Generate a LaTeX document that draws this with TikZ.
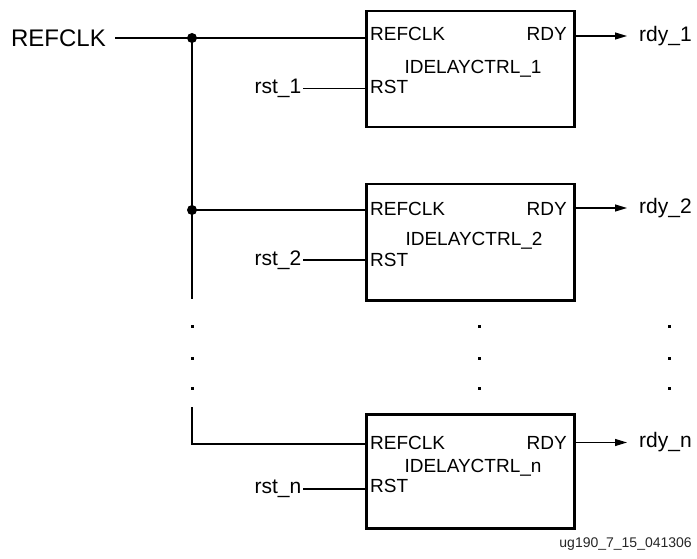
\documentclass[tikz,border=0pt]{standalone}
\usepackage{fontspec}
\setmainfont{Liberation Sans}
\usetikzlibrary{positioning,arrows.meta}

\begin{document}
\begin{tikzpicture}[
  x=1pt, y=-1pt,
  font=\fontsize{21}{25}\selectfont,
  wire/.style={line width=1.2pt},
  arr/.style={wire, -{Triangle[length=12pt, width=7pt]}},
  ctrl/.style={draw, line width=2.5pt, minimum width=208pt, minimum height=116pt, inner sep=0pt, anchor=north west},
  pin/.style={font=\fontsize{19}{22}\selectfont, inner sep=0pt},
  sig/.style={inner sep=0pt},
  junc/.style={circle, fill, inner sep=0pt, minimum size=10pt},
  figtag/.style={font=\fontsize{14}{16}\selectfont, text=black!85, inner sep=0pt}]
\useasboundingbox (0,0) rectangle (697,559);
% input clock
\node[sig, font=\fontsize{24}{28}\selectfont, anchor=east, inner xsep=9pt] (refclk) at (115,38) {REFCLK};
% controller blocks
\node[ctrl] (ctrl1) at (365,10) {};
\node[ctrl] (ctrl2) at (365,183) {};
\node[ctrl, minimum height=114pt] (ctrln) at (365,413) {};
\node[pin, anchor=base west] (clk1) at (370,41) {REFCLK};
\node[pin, anchor=base east] (rdyp1) at (567,41) {RDY};
\node[pin, anchor=base] (name1) at (473,73.5) {IDELAYCTRL\_1};
\node[pin, anchor=base west] (rstp1) at (370,94) {RST};
\node[pin, anchor=base west] (clk2) at (370,216) {REFCLK};
\node[pin, anchor=base east] (rdyp2) at (567,216) {RDY};
\node[pin, anchor=base] (name2) at (474,246) {IDELAYCTRL\_2};
\node[pin, anchor=base west] (rstp2) at (370,266) {RST};
\node[pin, anchor=base west] (clkn) at (370,449.5) {REFCLK};
\node[pin, anchor=base east] (rdypn) at (567,449.5) {RDY};
\node[pin, anchor=base] (namen) at (473,472) {IDELAYCTRL\_n};
\node[pin, anchor=base west] (rstpn) at (370,492) {RST};
% resets and ready outputs
\node[sig, anchor=east, inner xsep=1.5pt] (rst1) at (303,88.5) {rst\_1};
\node[sig, anchor=east, inner xsep=1.5pt] (rst2) at (303,260) {rst\_2};
\node[sig, anchor=east, inner xsep=1.5pt] (rstn) at (303,489) {rst\_n};
\node[sig, anchor=west, inner xsep=12pt] (rdy1) at (627,36) {rdy\_1};
\node[sig, anchor=west, inner xsep=12pt] (rdy2) at (627,208) {rdy\_2};
\node[sig, anchor=west, inner xsep=12pt] (rdyn) at (627,442.5) {rdy\_n};
\node[junc] (j1) at (192,38) {};
\node[junc] (j2) at (192,210) {};
\coordinate (busend) at (192,299);
\coordinate (bustop) at (192,407);
\coordinate (busn) at (192,444);
\node[figtag, anchor=east] (fig) at (692,544) {ug190\_7\_15\_041306};
% clock tree
\draw[wire] (refclk.east) -- (ctrl1.west |- refclk);
\draw[wire] (j1.center) -- (busend);
\draw[wire] (j2.center) -- (ctrl2.west |- j2);
\draw[wire] (bustop) -- (busn) -- (busn -| ctrln.west);
\draw[wire] (rst1) -- (rst1 -| ctrl1.west);
\draw[wire] (rst2) -- (rst2 -| ctrl2.west);
\draw[wire] (rstn) -- (rstn -| ctrln.west);
\draw[arr] (ctrl1.east |- rdy1) -- (rdy1.west);
\draw[arr] (ctrl2.east |- rdy2) -- (rdy2.west);
\draw[arr] (ctrln.east |- rdyn) -- (rdyn.west);
% ellipsis dots
\foreach \x in {192,479,669}
  \foreach \y in {326,358,388}
    \fill (\x-1.5,\y-1.5) rectangle +(3,3);
\end{tikzpicture}
\end{document}
